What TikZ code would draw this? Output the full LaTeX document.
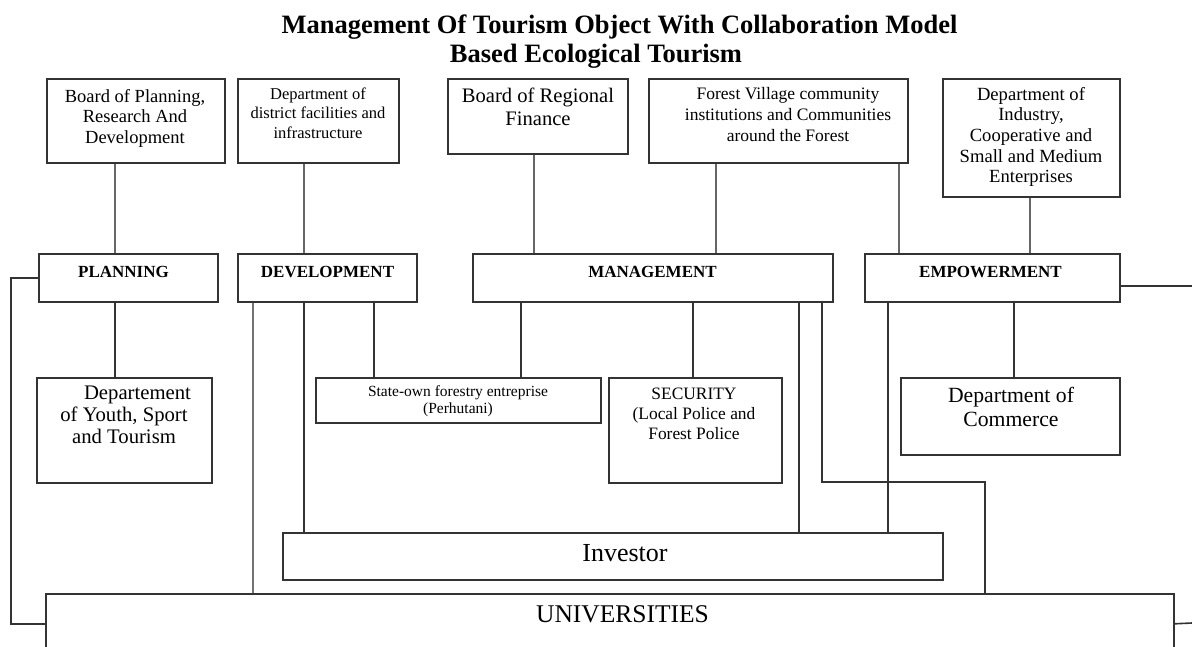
\documentclass[tikz,border=0pt]{standalone}
\usepackage{fontspec}
\setmainfont{Liberation Serif}
\newcommand\setfs[2]{\fontsize{#1}{#2}\selectfont}
\begin{document}
\begin{tikzpicture}[x=1pt,y=-1pt,
  box/.style={draw=black!80, line width=1.6pt, inner sep=0pt, anchor=north west},
  link/.style={draw=black!80, line width=1.6pt},
  feed/.style={draw=black!60, line width=1.6pt},
  lbl/.style={inner sep=0pt, align=center, text=black},
  head/.style={inner sep=0pt, anchor=base, font=\setfs{17}{20}\bfseries},
]
\clip (0,0) rectangle (1192,646);

% title
\node[inner sep=0pt, anchor=base, font=\setfs{26.5}{29}\bfseries] (title1) at (619.5,33)
  {Management Of Tourism Object With Collaboration Model};
\node[inner sep=0pt, anchor=base, font=\setfs{26.5}{29}\bfseries] (title2) at (596,62)
  {Based Ecological Tourism};

% top row of agencies
\node[box, minimum width=178pt, minimum height=84pt] (bprd) at (46,78) {};
\node[lbl, font=\setfs{18.5}{20.5}] (t-bprd) at (135,118) {Board of  Planning,\\Research And\\Development};
\node[box, minimum width=161pt, minimum height=84pt] (bdfi) at (237,78) {};
\node[lbl, font=\setfs{16.5}{19.5}] (t-bdfi) at (318,113) {Department of\\district facilities  and\\infrastructure};
\node[box, minimum width=180pt, minimum height=75pt] (brf) at (447,78) {};
\node[lbl, font=\setfs{20.6}{22.5}] (t-brf) at (538,107) {Board of Regional\\Finance};
\node[box, minimum width=259pt, minimum height=84pt] (fvc) at (648,78) {};
\node[lbl, font=\setfs{17.5}{21}] (t-fvc) at (788,115) {Forest Village  community\\institutions and  Communities\\around the Forest};
\node[box, minimum width=177pt, minimum height=118pt] (dics) at (942,78) {};
\node[lbl, font=\setfs{18.6}{20.7}] (t-dics) at (1031,137) {Department of\\Industry,\\Cooperative and\\Small and Medium\\Enterprises};

% functions
\node[box, minimum width=179pt, minimum height=48pt] (plan) at (38,253) {};
\node[head] (t-plan) at (123.5,277.7) {PLANNING};
\node[box, minimum width=179pt, minimum height=48pt] (dev) at (237,253) {};
\node[head] (t-dev) at (327.5,277.7) {DEVELOPMENT};
\node[box, minimum width=360pt, minimum height=48pt] (mgmt) at (472,253) {};
\node[head] (t-mgmt) at (652.5,277.7) {MANAGEMENT};
\node[box, minimum width=255pt, minimum height=48pt] (emp) at (864,253) {};
\node[head] (t-emp) at (990.5,277.7) {EMPOWERMENT};

% executing bodies
\node[box, minimum width=175pt, minimum height=105pt] (youth) at (36,377) {};
\node[lbl, font=\setfs{20.7}{22.2}] (t-youth) at (124,415) {\hspace*{27pt}Departement\\of Youth, Sport\\and Tourism};
\node[box, minimum width=285pt, minimum height=45pt] (perh) at (315,377) {};
\node[lbl, font=\setfs{15.5}{16.8}] (t-perh) at (458,401.5) {State-own forestry entreprise\\(Perhutani)};
\node[box, minimum width=173pt, minimum height=105pt] (sec) at (608,377) {};
\node[lbl, font=\setfs{17.4}{20}] (t-sec) at (694,414) {SECURITY\\(Local Police  and\\Forest Police};
\node[box, minimum width=219pt, minimum height=77pt] (comm) at (900,377) {};
\node[lbl, font=\setfs{21.7}{24}] (t-comm) at (1011,407.3) {Department of\\Commerce};

% investor and universities
\node[box, minimum width=660pt, minimum height=47pt] (inv) at (282,532) {};
\node[inner sep=0pt, anchor=base, font=\setfs{26}{28}] (t-inv) at (625,561) {Investor};
\node[box, minimum width=1128pt, minimum height=60pt] (univ) at (45,593) {};
\node[inner sep=0pt, anchor=base, font=\setfs{25.5}{28}] (t-univ) at (622.5,622) {UNIVERSITIES};

% connector columns
\coordinate (c115) at (115,0);
\coordinate (c304) at (304,0);
\coordinate (c534) at (534,0);
\coordinate (c716) at (716,0);
\coordinate (c899) at (899,0);
\coordinate (c1030) at (1030,0);
\coordinate (c253) at (253,0);
\coordinate (c374) at (374,0);
\coordinate (c521) at (521,0);
\coordinate (c693) at (693,0);
\coordinate (c799) at (799,0);
\coordinate (c888) at (888,0);
\coordinate (c1014) at (1014,0);
\coordinate (j1) at (822,482);
\coordinate (j2) at (985,482);
\coordinate (loopx) at (11,0);
\coordinate (eEnd) at (1192,286);
\coordinate (uEnd) at (1192,623);

% agencies to functions
\draw[feed] (bprd.south -| c115) -- (plan.north -| c115);
\draw[feed] (bdfi.south -| c304) -- (dev.north -| c304);
\draw[feed] (brf.south -| c534) -- (mgmt.north -| c534);
\draw[feed] (fvc.south -| c716) -- (mgmt.north -| c716);
\draw[feed] (fvc.south -| c899) -- (emp.north -| c899);
\draw[feed] (dics.south -| c1030) -- (emp.north -| c1030);

% functions to bodies
\draw[link] (plan.south -| c115) -- (youth.north -| c115);
\draw[link] (plan.west) -- (plan.west -| loopx) |- (univ.west);
\draw[draw=black!55, line width=1.9pt] (dev.south -| c253) -- (univ.north -| c253);
\draw[link] (dev.south -| c304) -- (inv.north -| c304);
\draw[link] (dev.south -| c374) -- (perh.north -| c374);
\draw[link] (mgmt.south -| c521) -- (perh.north -| c521);
\draw[link] (mgmt.south -| c693) -- (sec.north -| c693);
\draw[link] (mgmt.south -| c799) -- (inv.north -| c799);
\draw[link] (mgmt.south -| j1) -- (j1) -- (j2) -- (univ.north -| j2);
\draw[link] (emp.south -| c888) -- (inv.north -| c888);
\draw[link] (emp.south -| c1014) -- (comm.north -| c1014);
\draw[link] (emp.east |- eEnd) -- (eEnd);
\draw[link] (univ.east) -- (uEnd);
\end{tikzpicture}
\end{document}
